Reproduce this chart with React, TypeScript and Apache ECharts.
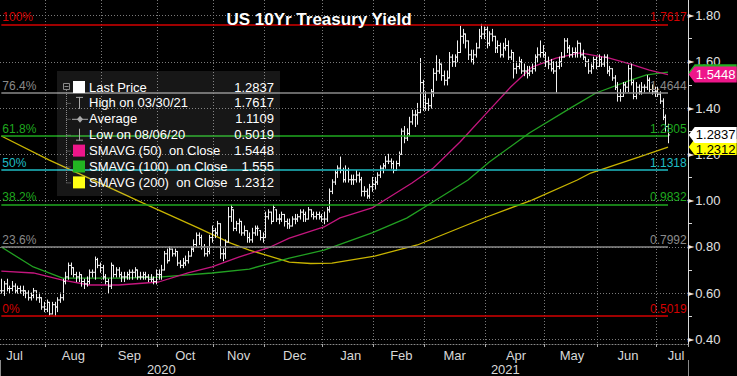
import React, { useEffect, useRef } from "react";
import * as echarts from "echarts";

// ---------- calendar (US bond-market trading days) ----------
const START_DATE = "2020-07-09";
const END_DATE = "2021-07-19"; // last data bar is 2021-07-08; later slots stay empty
const HOLIDAYS = [
  "2020-09-07", "2020-10-12", "2020-11-11", "2020-11-26", "2020-12-25",
  "2021-01-01", "2021-01-18", "2021-02-15", "2021-05-31", "2021-07-05",
];
const MONTHS = ["Jan", "Feb", "Mar", "Apr", "May", "Jun", "Jul", "Aug", "Sep", "Oct", "Nov", "Dec"];

// ---------- daily bars (yield, %) ----------
const highs = [
  // Jul 2020
  0.66, 0.65, 0.66, 0.63, 0.65, 0.64, 0.63, 0.63, 0.63, 0.61, 0.61, 0.60, 0.62, 0.61, 0.60, 0.58, 0.56,
  // Aug
  0.57, 0.56, 0.56, 0.56, 0.58, 0.60, 0.66, 0.69, 0.73, 0.73, 0.71, 0.69, 0.69, 0.68, 0.66, 0.67, 0.70, 0.70, 0.756, 0.75, 0.73,
  // Sep
  0.72, 0.68, 0.66, 0.73, 0.72, 0.71, 0.71, 0.69, 0.69, 0.69, 0.70, 0.70, 0.71, 0.70, 0.69, 0.69, 0.69, 0.68, 0.68, 0.67, 0.70,
  // Oct
  0.70, 0.72, 0.78, 0.79, 0.80, 0.79, 0.79, 0.78, 0.74, 0.75, 0.76, 0.78, 0.80, 0.83, 0.86, 0.86, 0.85, 0.81, 0.80, 0.85, 0.89,
  // Nov
  0.88, 0.91, 0.90, 0.79, 0.83, 0.97, 0.98, 0.96, 0.91, 0.92, 0.91, 0.89, 0.87, 0.86, 0.88, 0.89, 0.89, 0.87, 0.86,
  // Dec
  0.95, 0.96, 0.95, 0.98, 0.96, 0.94, 0.95, 0.94, 0.92, 0.92, 0.93, 0.94, 0.94, 0.96, 0.96, 0.95, 0.97, 0.96, 0.95, 0.95, 0.95, 0.94,
  // Jan 2021
  0.95, 0.97, 1.05, 1.09, 1.13, 1.15, 1.188, 1.14, 1.15, 1.14, 1.11, 1.11, 1.13, 1.12, 1.10, 1.06, 1.05, 1.07, 1.10,
  // Feb
  1.10, 1.12, 1.15, 1.16, 1.19, 1.20, 1.18, 1.17, 1.17, 1.21, 1.31, 1.32, 1.31, 1.36, 1.39, 1.39, 1.42, 1.614, 1.52,
  // Mar
  1.47, 1.44, 1.48, 1.57, 1.626, 1.61, 1.59, 1.56, 1.56, 1.64, 1.63, 1.63, 1.69, 1.754, 1.74, 1.72, 1.69, 1.65, 1.65, 1.68, 1.74, 1.7617, 1.75,
  // Apr
  1.75, 1.73, 1.74, 1.71, 1.69, 1.68, 1.68, 1.70, 1.69, 1.65, 1.64, 1.60, 1.62, 1.61, 1.59, 1.58, 1.58, 1.59, 1.63, 1.66, 1.69, 1.67,
  // May
  1.64, 1.62, 1.61, 1.60, 1.60, 1.62, 1.64, 1.70, 1.70, 1.67, 1.66, 1.66, 1.69, 1.68, 1.65, 1.62, 1.61, 1.59, 1.62, 1.62,
  // Jun
  1.63, 1.62, 1.63, 1.63, 1.58, 1.57, 1.54, 1.51, 1.48, 1.51, 1.51, 1.585, 1.59, 1.52, 1.51, 1.50, 1.51, 1.50, 1.54, 1.53, 1.50, 1.49,
  // Jul
  1.49, 1.47, 1.44, 1.37, 1.33,
];
const lows = [
  0.60, 0.59, 0.61, 0.60, 0.61, 0.60, 0.60, 0.60, 0.59, 0.58, 0.57, 0.57, 0.58, 0.57, 0.56, 0.53, 0.52,
  0.52, 0.505, 0.51, 0.5019, 0.52, 0.56, 0.57, 0.64, 0.66, 0.68, 0.67, 0.65, 0.65, 0.63, 0.62, 0.63, 0.64, 0.67, 0.66, 0.71, 0.69,
  0.66, 0.64, 0.60, 0.62, 0.67, 0.67, 0.67, 0.65, 0.65, 0.66, 0.66, 0.66, 0.67, 0.66, 0.66, 0.66, 0.66, 0.65, 0.65, 0.64, 0.64,
  0.66, 0.66, 0.70, 0.73, 0.74, 0.76, 0.76, 0.72, 0.71, 0.71, 0.72, 0.73, 0.76, 0.78, 0.80, 0.81, 0.79, 0.76, 0.76, 0.77, 0.82,
  0.84, 0.85, 0.75, 0.74, 0.75, 0.82, 0.91, 0.87, 0.87, 0.86, 0.85, 0.85, 0.82, 0.82, 0.82, 0.85, 0.85, 0.83, 0.82,
  0.84, 0.92, 0.90, 0.91, 0.91, 0.90, 0.91, 0.89, 0.88, 0.88, 0.89, 0.90, 0.91, 0.92, 0.91, 0.91, 0.92, 0.93, 0.92, 0.92, 0.92, 0.91,
  0.90, 0.91, 0.95, 1.03, 1.07, 1.10, 1.12, 1.08, 1.08, 1.08, 1.07, 1.07, 1.08, 1.08, 1.02, 1.02, 1.01, 1.01, 1.04,
  1.05, 1.07, 1.10, 1.12, 1.14, 1.16, 1.14, 1.12, 1.13, 1.15, 1.20, 1.25, 1.26, 1.28, 1.33, 1.32, 1.33, 1.38, 1.39,
  1.39, 1.39, 1.40, 1.45, 1.52, 1.55, 1.52, 1.50, 1.50, 1.53, 1.58, 1.58, 1.60, 1.64, 1.68, 1.66, 1.61, 1.60, 1.59, 1.62, 1.66, 1.70, 1.70,
  1.66, 1.67, 1.69, 1.64, 1.64, 1.62, 1.62, 1.65, 1.61, 1.61, 1.53, 1.55, 1.57, 1.55, 1.54, 1.53, 1.54, 1.55, 1.56, 1.60, 1.62, 1.62,
  1.58, 1.57, 1.56, 1.55, 1.469, 1.57, 1.58, 1.62, 1.64, 1.62, 1.62, 1.62, 1.62, 1.62, 1.61, 1.58, 1.55, 1.55, 1.57, 1.57,
  1.58, 1.58, 1.58, 1.55, 1.54, 1.52, 1.48, 1.43, 1.43, 1.45, 1.47, 1.47, 1.50, 1.44, 1.44, 1.46, 1.46, 1.47, 1.48, 1.47, 1.46, 1.45,
  1.45, 1.42, 1.35, 1.30, 1.25,
];
const closes = [
  0.61, 0.64, 0.62, 0.62, 0.63, 0.61, 0.62, 0.61, 0.61, 0.60, 0.58, 0.59, 0.61, 0.58, 0.58, 0.54, 0.53,
  0.56, 0.51, 0.55, 0.54, 0.57, 0.58, 0.65, 0.67, 0.72, 0.71, 0.68, 0.67, 0.68, 0.65, 0.64, 0.65, 0.69, 0.69, 0.745, 0.72, 0.71,
  0.67, 0.65, 0.63, 0.72, 0.68, 0.70, 0.68, 0.67, 0.67, 0.68, 0.69, 0.69, 0.70, 0.67, 0.67, 0.68, 0.67, 0.66, 0.66, 0.65, 0.68,
  0.68, 0.70, 0.77, 0.74, 0.79, 0.77, 0.78, 0.73, 0.72, 0.73, 0.74, 0.76, 0.79, 0.81, 0.85, 0.84, 0.80, 0.77, 0.78, 0.84, 0.87,
  0.86, 0.90, 0.77, 0.77, 0.82, 0.93, 0.97, 0.88, 0.90, 0.91, 0.86, 0.87, 0.84, 0.83, 0.86, 0.88, 0.88, 0.84, 0.84,
  0.93, 0.95, 0.91, 0.97, 0.92, 0.92, 0.94, 0.91, 0.90, 0.89, 0.92, 0.92, 0.93, 0.95, 0.94, 0.92, 0.96, 0.94, 0.93, 0.94, 0.93, 0.92,
  0.92, 0.96, 1.04, 1.08, 1.12, 1.14, 1.13, 1.09, 1.13, 1.09, 1.09, 1.09, 1.11, 1.09, 1.04, 1.04, 1.02, 1.06, 1.07,
  1.08, 1.11, 1.14, 1.15, 1.17, 1.17, 1.16, 1.13, 1.16, 1.20, 1.30, 1.27, 1.29, 1.34, 1.37, 1.37, 1.38, 1.51, 1.40,
  1.42, 1.41, 1.47, 1.55, 1.56, 1.59, 1.54, 1.52, 1.53, 1.62, 1.60, 1.62, 1.64, 1.71, 1.72, 1.69, 1.63, 1.61, 1.63, 1.66, 1.71, 1.72, 1.74,
  1.68, 1.72, 1.71, 1.66, 1.67, 1.63, 1.66, 1.67, 1.62, 1.64, 1.57, 1.58, 1.60, 1.56, 1.56, 1.55, 1.56, 1.57, 1.62, 1.63, 1.64, 1.63,
  1.60, 1.59, 1.57, 1.56, 1.58, 1.60, 1.62, 1.69, 1.66, 1.63, 1.64, 1.64, 1.68, 1.63, 1.62, 1.60, 1.56, 1.58, 1.61, 1.58,
  1.61, 1.59, 1.62, 1.56, 1.57, 1.53, 1.49, 1.45, 1.45, 1.50, 1.49, 1.57, 1.51, 1.45, 1.49, 1.47, 1.49, 1.49, 1.52, 1.48, 1.47, 1.47,
  1.46, 1.43, 1.36, 1.32, 1.2837,
];

// ---------- moving averages ----------
const sma50: [string, number][] = [
  ["2020-07-09", 0.695], ["2020-07-27", 0.687], ["2020-08-11", 0.656], ["2020-08-25", 0.635],
  ["2020-09-10", 0.635], ["2020-10-01", 0.648], ["2020-10-19", 0.687], ["2020-10-30", 0.713],
  ["2020-11-16", 0.756], ["2020-12-02", 0.795], ["2020-12-14", 0.838], ["2021-01-04", 0.886],
  ["2021-01-12", 0.925], ["2021-01-29", 0.968], ["2021-02-22", 1.076], ["2021-03-04", 1.141],
  ["2021-03-18", 1.253], ["2021-04-02", 1.391], ["2021-04-14", 1.491], ["2021-04-26", 1.577],
  ["2021-05-07", 1.616], ["2021-05-20", 1.638], ["2021-06-07", 1.616], ["2021-06-17", 1.590],
  ["2021-06-28", 1.564], ["2021-07-08", 1.5448],
];
const sma100: [string, number][] = [
  ["2020-07-09", 0.799], ["2020-07-27", 0.713], ["2020-08-11", 0.665], ["2020-09-10", 0.665],
  ["2020-10-01", 0.669], ["2020-10-30", 0.687], ["2020-11-20", 0.704], ["2020-12-14", 0.751],
  ["2021-01-04", 0.786], ["2021-01-29", 0.860], ["2021-02-18", 0.924], ["2021-03-02", 0.981],
  ["2021-03-23", 1.089], ["2021-04-02", 1.167], ["2021-04-23", 1.292], ["2021-05-17", 1.404],
  ["2021-05-28", 1.465], ["2021-06-17", 1.521], ["2021-06-25", 1.543], ["2021-07-08", 1.555],
];
const sma200: [string, number][] = [
  ["2020-07-09", 1.279], ["2020-08-04", 1.175], ["2020-09-03", 1.059], ["2020-09-23", 0.990],
  ["2020-10-23", 0.881], ["2020-11-10", 0.816], ["2020-11-20", 0.786], ["2020-12-14", 0.734],
  ["2020-12-24", 0.728], ["2021-01-07", 0.730], ["2021-02-01", 0.760], ["2021-02-24", 0.808],
  ["2021-04-01", 0.929], ["2021-04-26", 1.002], ["2021-05-19", 1.089], ["2021-05-26", 1.119],
  ["2021-06-22", 1.188], ["2021-07-08", 1.2312],
];

// ---------- Fibonacci retracement ----------
const fibPercents = ["100%", "76.4%", "61.8%", "50%", "38.2%", "23.6%", "0%"];
const fibValues = [1.7617, 1.4644, 1.2805, 1.1318, 0.9832, 0.7992, 0.5019];
const fibColors = ["#d40000", "#8a8a8a", "#1fa81f", "#1fbcc4", "#1fa81f", "#8a8a8a", "#d40000"];

// ---------- axis ----------
const yTickLabels = [0.4, 0.6, 0.8, 1.0, 1.2, 1.4, 1.6, 1.8];
const yMinorTicks = [0.5, 0.7, 0.9, 1.1, 1.3, 1.5, 1.7];

// ---------- legend ----------
const legendLabels = [
  "Last Price", "High on 03/30/21", "Average", "Low on 08/06/20",
  "SMAVG (50)  on Close", "SMAVG (100)  on Close", "SMAVG (200)  on Close",
];
const legendValues = ["1.2837", "1.7617", "1.1109", "0.5019", "1.5448", "1.555", "1.2312"];

// ---------- right-edge value tags (bottom to top); green one sits hidden under the magenta one ----------
const tagValues = [1.555, 1.5448, 1.2312, 1.2837];
const tagLabels = ["", "1.5448", "1.2312", "1.2837"];
const tagFills = ["#22b022", "#ee168a", "#ffff00", "#ffffff"];
const tagTextColors = ["#ffffff", "#ffffff", "#000000", "#000000"];
const tagTextOffsetY = [0, 0, 2, 0];

const SMA50_COLOR = "#c4167e";
const SMA100_COLOR = "#22a022";
const SMA200_COLOR = "#c8b400";
const FONT = "Liberation Sans";

function tradingDays(): string[] {
  const out: string[] = [];
  const d = new Date(START_DATE + "T00:00:00Z");
  const end = new Date(END_DATE + "T00:00:00Z");
  while (d.getTime() <= end.getTime()) {
    const wd = d.getUTCDay();
    const s = d.toISOString().slice(0, 10);
    if (wd !== 0 && wd !== 6 && HOLIDAYS.indexOf(s) < 0) out.push(s);
    d.setUTCDate(d.getUTCDate() + 1);
  }
  return out;
}

function buildOption() {
  const dates = tradingDays();
  const n = dates.length;
  const lastData = closes.length - 1;

  const monthStart = dates.map((d, i) => i > 0 && d.slice(0, 7) !== dates[i - 1].slice(0, 7));
  const monthLabel: boolean[] = dates.map(() => false);
  const seen: Record<string, boolean> = {};
  dates.forEach((d, i) => {
    const key = d.slice(0, 7);
    if (!seen[key] && Number(d.slice(8, 10)) >= 16) {
      seen[key] = true;
      monthLabel[Math.min(i, n - 5)] = true;
    }
  });
  const yearLabel: boolean[] = dates.map(() => false);
  let yearSep = -1;
  const years = Array.from(new Set(dates.map((d) => d.slice(0, 4))));
  years.forEach((y) => {
    const first = dates.findIndex((d) => d.slice(0, 4) === y);
    let last = first;
    dates.forEach((d, i) => { if (d.slice(0, 4) === y) last = i; });
    yearLabel[Math.round((first + last) / 2)] = true;
    if (first > 0) yearSep = first;
  });

  const ohlc = closes.map((c, i) => [i, i > 0 ? closes[i - 1] : c, highs[i], lows[i], c]);
  const toPts = (arr: [string, number][]) => arr.map(([d, v]) => [dates.indexOf(d), v]);

  const rowY = (k: number) => 87 + k * 15.9;
  const gray = "#8a8a8a";
  const legendGraphics: any[] = [
    { type: "rect", shape: { x: 57, y: 71, width: 223, height: 125 }, style: { fill: "rgba(255,255,255,0.09)" } },
    { type: "rect", shape: { x: 63.5, y: 83.5, width: 6, height: 6 }, style: { fill: "none", stroke: gray, lineWidth: 1 } },
    { type: "line", shape: { x1: 64.5, y1: 86.5, x2: 68.5, y2: 86.5 }, style: { stroke: gray, lineWidth: 1 } },
    { type: "line", shape: { x1: 66.5, y1: 90, x2: 66.5, y2: rowY(6) }, style: { stroke: gray, lineWidth: 1, lineDash: [1, 1] } },
    { type: "rect", shape: { x: 73, y: rowY(0) - 6, width: 12, height: 12 }, style: { fill: "#ffffff" } },
    { type: "line", shape: { x1: 79.5, y1: rowY(1) - 6, x2: 79.5, y2: rowY(1) + 6 }, style: { stroke: "#aaa", lineWidth: 1 } },
    { type: "line", shape: { x1: 76, y1: rowY(1) - 5.5, x2: 83, y2: rowY(1) - 5.5 }, style: { stroke: "#aaa", lineWidth: 1 } },
    { type: "line", shape: { x1: 72, y1: rowY(2) + 0.5, x2: 88, y2: rowY(2) + 0.5 }, style: { stroke: "#aaa", lineWidth: 1 } },
    { type: "polygon", shape: { points: [[80, rowY(2) - 3], [83, rowY(2) + 0.5], [80, rowY(2) + 4], [77, rowY(2) + 0.5]] }, style: { fill: "#aaa" } },
    { type: "line", shape: { x1: 79.5, y1: rowY(3) - 6, x2: 79.5, y2: rowY(3) + 6 }, style: { stroke: "#aaa", lineWidth: 1 } },
    { type: "line", shape: { x1: 76, y1: rowY(3) + 5.5, x2: 83, y2: rowY(3) + 5.5 }, style: { stroke: "#aaa", lineWidth: 1 } },
    { type: "rect", shape: { x: 73, y: rowY(4) - 6, width: 12, height: 12 }, style: { fill: "#ee168a" } },
    { type: "rect", shape: { x: 73, y: rowY(5) - 6, width: 12, height: 12 }, style: { fill: "#22b522" } },
    { type: "rect", shape: { x: 73, y: rowY(6) - 6, width: 12, height: 12 }, style: { fill: "#ffff14" } },
  ];
  for (let k = 1; k < 7; k++) {
    legendGraphics.push({ type: "line", shape: { x1: 66.5, y1: rowY(k) + 0.5, x2: 71, y2: rowY(k) + 0.5 }, style: { stroke: gray, lineWidth: 1, lineDash: [1, 1] } });
  }
  legendLabels.forEach((t, k) => {
    legendGraphics.push({ type: "text", x: 89, y: rowY(k), style: { text: t, fill: "#ffffff", fontSize: 13, fontFamily: FONT, align: "left", verticalAlign: "middle" } });
    legendGraphics.push({ type: "text", x: 274, y: rowY(k), style: { text: legendValues[k], fill: "#ffffff", fontSize: 13, fontFamily: FONT, align: "right", verticalAlign: "middle" } });
  });

  const fibLines: any[] = [];
  fibValues.forEach((v, k) => {
    fibLines.push([
      {
        coord: [0, v],
        lineStyle: { color: fibColors[k], width: 1.6, type: "solid" },
        label: { show: true, position: "insideStartTop", formatter: fibPercents[k], color: fibColors[k], fontSize: 12, fontFamily: FONT, distance: [1, 1] },
      },
      { coord: [lastData, v] },
    ]);
    fibLines.push([
      {
        coord: [0, v],
        lineStyle: { color: "rgba(0,0,0,0)", width: 0.01, type: "solid" },
        label: { show: true, position: "insideEndTop", formatter: v.toFixed(4), color: fibColors[k], opacity: 1, fontSize: 12, fontFamily: FONT, distance: [0, 1] },
      },
      { coord: [n - 1, v] },
    ]);
  });

  return {
    backgroundColor: "#000000",
    animation: false,
    textStyle: { fontFamily: FONT },
    grid: { left: 0, right: 49, top: 0, bottom: 32, containLabel: false, outerBoundsMode: "none" },
    xAxis: [
      {
        type: "category",
        data: dates,
        boundaryGap: true,
        axisLine: { show: true, lineStyle: { color: "#8a8a8a", type: [1, 2] } },
        axisTick: { show: true, interval: (i: number) => monthStart[i], length: 3, lineStyle: { color: "#aaaaaa" } },
        axisLabel: {
          interval: (i: number) => monthLabel[i],
          formatter: (v: string) => MONTHS[Number(v.slice(5, 7)) - 1],
          color: "#d8d8d8", fontSize: 13, margin: 5, fontFamily: FONT,
        },
        splitLine: { show: true, interval: (i: number) => monthStart[i], lineStyle: { color: "#7a7a7a", type: [1, 2], width: 1 } },
      },
      {
        type: "category",
        data: dates,
        boundaryGap: true,
        position: "bottom",
        offset: 16,
        axisLine: { show: false },
        axisTick: { show: true, interval: (i: number) => i === yearSep, length: 16, lineStyle: { color: "#8a8a8a" } },
        axisLabel: {
          interval: (i: number) => yearLabel[i],
          formatter: (v: string) => v.slice(0, 4),
          color: "#d8d8d8", fontSize: 13, margin: 3, fontFamily: FONT,
        },
        splitLine: { show: false },
      },
    ],
    yAxis: {
      type: "value",
      position: "right",
      min: 0.38,
      max: 1.867,
      axisLine: { show: true, lineStyle: { color: "#d8d8d8", width: 1 } },
      axisTick: { show: true, customValues: yMinorTicks, length: 4, lineStyle: { color: "#d8d8d8" } },
      axisLabel: {
        customValues: yTickLabels,
        margin: 0,
        formatter: (v: number) => `{t|►}{v|${v.toFixed(2)}}`,
        rich: {
          t: { fontSize: 8, color: "#e8e8e8", padding: [0, 1, 0, 0], fontFamily: "DejaVu Sans" },
          v: { fontSize: 13, color: "#e0e0e0", fontFamily: FONT },
        },
      },
      splitLine: { show: false },
    },
    series: [
      {
        name: "gridlines",
        type: "line",
        data: [],
        silent: true,
        z: 1,
        markLine: {
          silent: true,
          symbol: ["none", "none"],
          label: { show: false },
          lineStyle: { color: "#7a7a7a", type: [1, 2], width: 1 },
          data: yTickLabels.map((v) => ({ yAxis: v })),
        },
      },
      { name: "SMAVG (200)", type: "line", data: toPts(sma200), showSymbol: false, symbol: "none", lineStyle: { color: SMA200_COLOR, width: 1.3 }, z: 2, silent: true },
      { name: "SMAVG (100)", type: "line", data: toPts(sma100), showSymbol: false, symbol: "none", lineStyle: { color: SMA100_COLOR, width: 1.3 }, z: 2, silent: true },
      { name: "SMAVG (50)", type: "line", data: toPts(sma50), showSymbol: false, symbol: "none", lineStyle: { color: SMA50_COLOR, width: 1.3 }, z: 2, silent: true },
      {
        name: "fib",
        type: "line",
        data: [],
        silent: true,
        z: 3,
        markLine: { silent: true, symbol: ["none", "none"], data: fibLines },
      },
      {
        name: "Last Price",
        type: "custom",
        data: ohlc,
        encode: { x: 0, y: [1, 2, 3, 4] },
        z: 4,
        silent: true,
        renderItem: (params: any, api: any) => {
          const i = api.value(0);
          const o = api.value(1), h = api.value(2), l = api.value(3), c = api.value(4);
          const ph = api.coord([i, h]);
          const pl = api.coord([i, l]);
          const oo = Math.min(h, Math.max(l, o));
          const po = api.coord([i, oo]);
          const pc = api.coord([i, c]);
          const x = Math.round(ph[0]) + 0.5;
          const w = 1.6;
          const st = { stroke: "#f2f2f2", lineWidth: 1 };
          return {
            type: "group",
            children: [
              { type: "line", shape: { x1: x, y1: ph[1] - 0.5, x2: x, y2: pl[1] + 0.5 }, style: st },
              { type: "line", shape: { x1: x - w, y1: po[1], x2: x, y2: po[1] }, style: st },
              { type: "line", shape: { x1: x, y1: pc[1], x2: x + w, y2: pc[1] }, style: st },
            ],
          };
        },
      },
      {
        name: "tags",
        type: "line",
        data: [],
        silent: true,
        z: 6,
        markPoint: {
          silent: true,
          symbol: "path://M0,8L6,0L48,0L48,16L6,16Z",
          symbolSize: [48, 16],
          symbolKeepAspect: false,
          symbolOffset: [26, 0],
          data: tagValues.map((v, k) => ({
            coord: [dates[n - 1], v],
            value: v,
            itemStyle: { color: tagFills[k] },
            label: {
              show: tagLabels[k] !== "", position: "inside", offset: [3, tagTextOffsetY[k]], formatter: tagLabels[k],
              color: tagTextColors[k], fontSize: 13, fontFamily: FONT,
            },
          })),
        },
      },
    ],
    graphic: [
      ...legendGraphics.map((g) => ({ ...g, z: 20, silent: true })),
      {
        type: "text", x: 319, y: 19, z: 21, silent: true,
        style: { text: "US 10Yr Treasury Yield", fill: "#ffffff", fontSize: 17, fontWeight: "bold", fontFamily: FONT, align: "center", verticalAlign: "middle" },
      },
    ],
  };
}

export default function App() {
  const ref = useRef<HTMLDivElement>(null);
  useEffect(() => {
    if (!ref.current) return;
    const chart = echarts.init(ref.current, null, { renderer: "svg" });
    chart.setOption(buildOption() as any);
    return () => chart.dispose();
  }, []);
  return (
    <div
      ref={ref}
      style={{ position: "absolute", left: 0, top: 0, width: 737, height: 376, background: "#000" }}
    />
  );
}
